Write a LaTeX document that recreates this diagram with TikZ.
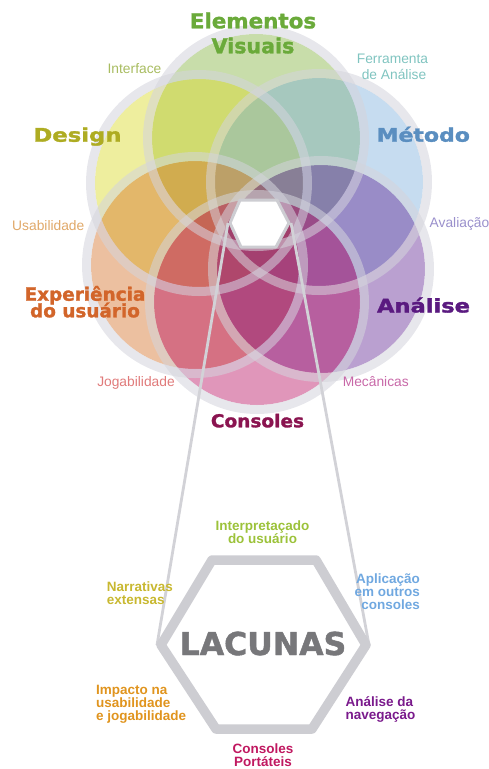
\documentclass[tikz,border=0pt]{standalone}
\usepackage{fontspec}
\setmainfont{Liberation Sans}
\newfontfamily\heavy{DejaVu Sans}[BoldFeatures={FakeBold=1.5}]
\newcommand\stretchx[2]{\scalebox{#1}[1]{#2}}

% circle fills (each painted translucent)
\definecolor{fVis}{RGB}{133,179,66}
\definecolor{fDes}{RGB}{218,218,40}
\definecolor{fMet}{RGB}{119,172,219}
\definecolor{fExp}{RGB}{212,112,39}
\definecolor{fAna}{RGB}{91,29,143}
\definecolor{fCon}{RGB}{181,5,91}
\definecolor{ringgray}{HTML}{D4D4DC}
\definecolor{hexgray}{HTML}{CDCDD2}
\definecolor{linkgray}{HTML}{D2D2D7}
% title colours
\definecolor{tVis}{HTML}{6AAA3A}
\definecolor{tDes}{HTML}{AEAC22}
\definecolor{tMet}{HTML}{5A8EC0}
\definecolor{tExp}{HTML}{D2652A}
\definecolor{tAna}{HTML}{5A1A80}
\definecolor{tCon}{HTML}{8A1450}
% small labels
\definecolor{lInt}{HTML}{A8BC60}
\definecolor{lFer}{HTML}{80C4C0}
\definecolor{lUsa}{HTML}{E0A868}
\definecolor{lAva}{HTML}{9A90CC}
\definecolor{lJog}{HTML}{E07A7A}
\definecolor{lMec}{HTML}{C868A8}
% gap labels
\definecolor{gInt}{HTML}{9CC23A}
\definecolor{gNar}{HTML}{C8B830}
\definecolor{gApl}{HTML}{70A8E0}
\definecolor{gLac}{HTML}{77777A}
\definecolor{gImp}{HTML}{E0941E}
\definecolor{gNav}{HTML}{7A1A8C}
\definecolor{gPor}{HTML}{C01860}

\begin{document}
\begin{tikzpicture}[x=1pt,y=-1pt,
  disc/.style 2 args={fill=#1, fill opacity=#2},
  ring/.style={draw=ringgray, line width=9pt, draw opacity=0.55},
  link/.style={draw=linkgray, line width=2.8pt},
  hexbig/.style={draw=hexgray, fill=white, line width=9.5pt, line join=round},
  hexsmall/.style={draw=hexgray, fill=white, line width=3pt, line join=round},
  head/.style={font=\heavy\bfseries\fontsize{#1}{#1}\selectfont, inner sep=0pt, anchor=base},
  soft/.style={font=\fontsize{13.8}{14}\selectfont, inner sep=0pt, anchor=base},
  gap/.style={font=\bfseries\fontsize{13.5}{12.8}\selectfont, inner sep=0pt}
]
\useasboundingbox (0,0) rectangle (489,769);

% centres of the six circles
\coordinate (pVis) at (256,138);
\coordinate (pDes) at (199,183);
\coordinate (pMet) at (319,182);
\coordinate (pExp) at (195,265);
\coordinate (pAna) at (321,269);
\coordinate (pCon) at (257,302);

% overlapping discs, back to front
\fill[disc={fVis}{0.45}] (pVis) circle[radius=104];
\fill[disc={fDes}{0.45}] (pDes) circle[radius=104];
\fill[disc={fMet}{0.42}] (pMet) circle[radius=104];
\fill[disc={fExp}{0.44}] (pExp) circle[radius=104];
\fill[disc={fAna}{0.42}] (pAna) circle[radius=104];
\fill[disc={fCon}{0.42}] (pCon) circle[radius=103];

% pale rims
\foreach \p in {pVis,pDes,pMet,pExp,pAna}
  \draw[ring] (\p) circle[radius=108.5];
\draw[ring] (pCon) circle[radius=107.5];

% small hexagon vertices
\coordinate (s1) at (230,223);
\coordinate (s2) at (240,200);
\coordinate (s3) at (277,200);
\coordinate (s4) at (289,223);
\coordinate (s5) at (276,247);
\coordinate (s6) at (241,247);
\coordinate (sL) at (228,223);
\coordinate (sR) at (291,223);

% big hexagon vertices
\coordinate (b1) at (161,645);
\coordinate (b2) at (212,560);
\coordinate (b3) at (316,560);
\coordinate (b4) at (366,645);
\coordinate (b5) at (312,729);
\coordinate (b6) at (216,729);
\coordinate (bL) at (157,645);
\coordinate (bR) at (369,645);

% zoom lines
\draw[link] (sL) -- (bL);
\draw[link] (sR) -- (bR);

\filldraw[hexsmall] (s1) -- (s2) -- (s3) -- (s4) -- (s5) -- (s6) -- cycle;
\filldraw[hexbig] (b1) -- (b2) -- (b3) -- (b4) -- (b5) -- (b6) -- cycle;

% circle titles
\node[head=20.6, text=tVis] (visA) at (253,28.3) {\stretchx{1.04}{Elementos}};
\node[head=20.6, text=tVis] (visB) at (253,53.3) {\stretchx{1.0}{Visuais}};
\node[head=18.8, text=tDes] (des) at (77.5,141.7) {\stretchx{1.21}{Design}};
\node[head=18.8, text=tMet] (met) at (423.3,141.7) {\stretchx{1.17}{Método}};
\node[head=18.4, text=tExp] (expA) at (85,300.7) {Experiência};
\node[head=18.4, text=tExp] (expB) at (85,317.3) {do usuário};
\node[head=18.8, text=tAna] (ana) at (423.5,312.5) {\stretchx{1.2}{Análise}};
\node[head=17.8, text=tCon] (con) at (257.5,427.3) {\stretchx{1.04}{Consoles}};

% small labels
\node[soft, text=lInt] (lblInt) at (134.5,73.3) {Interface};
\node[soft, text=lFer] (lblFerA) at (392.5,63.5) {Ferramenta};
\node[soft, text=lFer] (lblFerB) at (394,79) {de Análise};
\node[soft, text=lUsa] (lblUsa) at (48.3,230.7) {Usabilidade};
\node[soft, text=lAva] (lblAva) at (459.5,227.3) {Avaliação};
\node[soft, text=lJog] (lblJog) at (136,386.7) {Jogabilidade};
\node[soft, text=lMec] (lblMec) at (375.8,386.7) {Mecânicas};

% gaps around the big hexagon
\node[head=31.5, text=gLac] (lac) at (263,655) {LACUNAS};
\node[gap, text=gInt, align=center, anchor=north] (gapInt) at (262.5,520.3) {Interpretaçado\\do usuário};
\node[gap, text=gNar, align=left, anchor=north west] (gapNar) at (106.7,582) {Narrativas\\extensas};
\node[gap, text=gApl, align=right, anchor=north east] (gapApl) at (420,573.5) {Aplicação\\em outros\\consoles};
\node[gap, text=gImp, align=left, anchor=north west] (gapImp) at (96,685.2) {Impacto na\\usabilidade\\e jogabilidade};
\node[gap, text=gNav, align=left, anchor=north west] (gapNav) at (345.5,696.7) {Análise da\\navegação};
\node[gap, text=gPor, align=center, anchor=north] (gapPor) at (263,743.5) {Consoles\\Portáteis};
\end{tikzpicture}
\end{document}
